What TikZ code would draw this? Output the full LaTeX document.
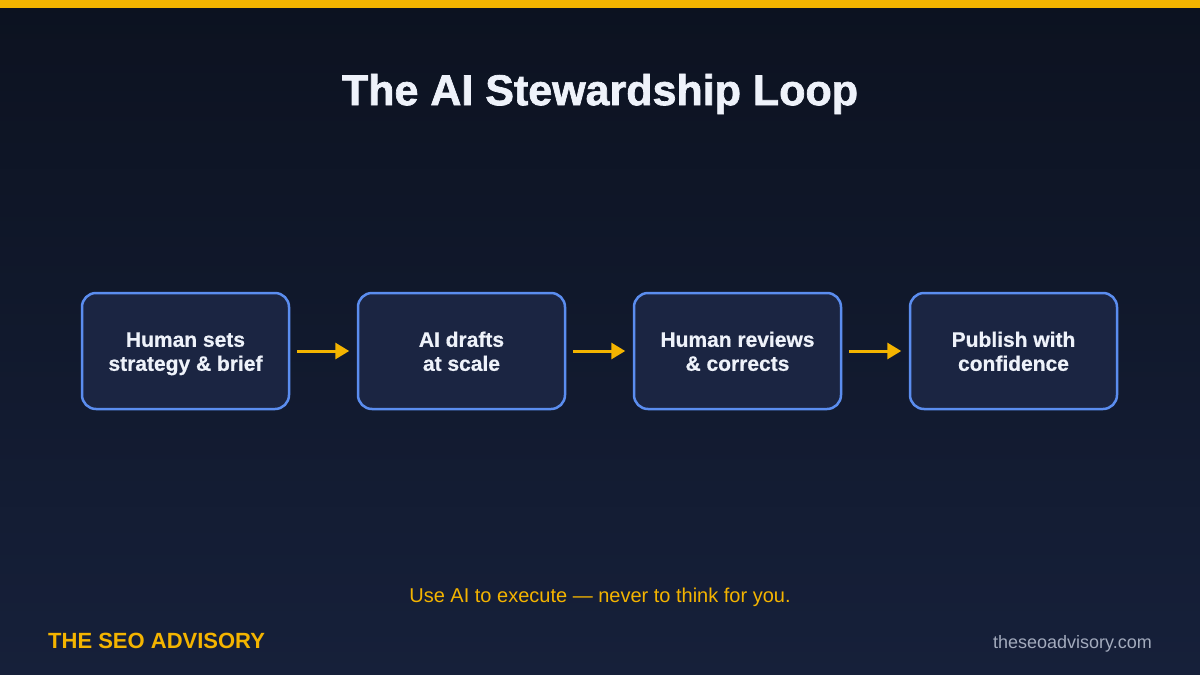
\documentclass[tikz,border=0pt]{standalone}
\usepackage{fontspec}
\setmainfont{Liberation Sans}
\newfontfamily\titlefont[FakeBold=1.6]{Liberation Sans Bold}
\newfontfamily\boxfont[FakeBold=0.6]{Liberation Sans Bold}
\usetikzlibrary{arrows.meta}
\definecolor{bgtop}{HTML}{0C1220}
\definecolor{bgbot}{HTML}{16203A}
\definecolor{gold}{HTML}{F4B400}
\definecolor{boxfill}{HTML}{1B2542}
\definecolor{boxline}{HTML}{5B8DEF}
\definecolor{txt}{HTML}{EEF2FA}
\definecolor{urlc}{HTML}{A3ABBD}
\tikzset{
  stepbox/.style={draw=boxline, line width=2.5pt, fill=boxfill, rounded corners=14pt,
    minimum width=207pt, minimum height=116pt, inner sep=0pt},
  steptext/.style={text=txt, font=\boxfont\fontsize{21}{24}\selectfont, align=center},
  flow/.style={draw=gold, line width=3pt, -{Triangle[length=14pt,width=16pt]},
    shorten <=6.5pt, shorten >=7.5pt}
}
\begin{document}
\begin{tikzpicture}[x=1pt,y=-1pt]
\useasboundingbox (0,0) rectangle (1200,675);
\shade[top color=bgtop, bottom color=bgbot] (0,0) rectangle (1200,675);
\fill[gold] (0,0) rectangle (1200,8);
\node[text=txt, font=\titlefont\fontsize{43}{48}\selectfont] (title) at (600,94) {The AI Stewardship Loop};
\node[stepbox] (s1) at (185.5,351) {};
\node[stepbox] (s2) at (461.5,351) {};
\node[stepbox] (s3) at (737.5,351) {};
\node[stepbox] (s4) at (1013.5,351) {};
\node[steptext] (t1) at ([yshift=-3pt]s1.center) {\strut Human sets\\strategy \& brief\strut};
\node[steptext] (t2) at ([yshift=-3pt]s2.center) {\strut AI drafts\\at scale\strut};
\node[steptext] (t3) at ([yshift=-3pt]s3.center) {\strut Human reviews\\\& corrects\strut};
\node[steptext] (t4) at ([yshift=-3pt]s4.center) {\strut Publish with\\confidence\strut};
\draw[flow] (s1.east) -- (s2.west);
\draw[flow] (s2.east) -- (s3.west);
\draw[flow] (s3.east) -- (s4.west);
\node[text=gold, font=\fontsize{20}{24}\selectfont] (tag) at (600,597) {Use AI to execute — never to think for you.};
\node[text=gold, font=\bfseries\fontsize{22}{26}\selectfont, anchor=west, inner sep=0pt] (brand) at (48,641) {THE SEO ADVISORY};
\node[text=urlc, font=\fontsize{18}{22}\selectfont, anchor=east, inner sep=0pt] (url) at (1152,644) {theseoadvisory.com};
\end{tikzpicture}
\end{document}
